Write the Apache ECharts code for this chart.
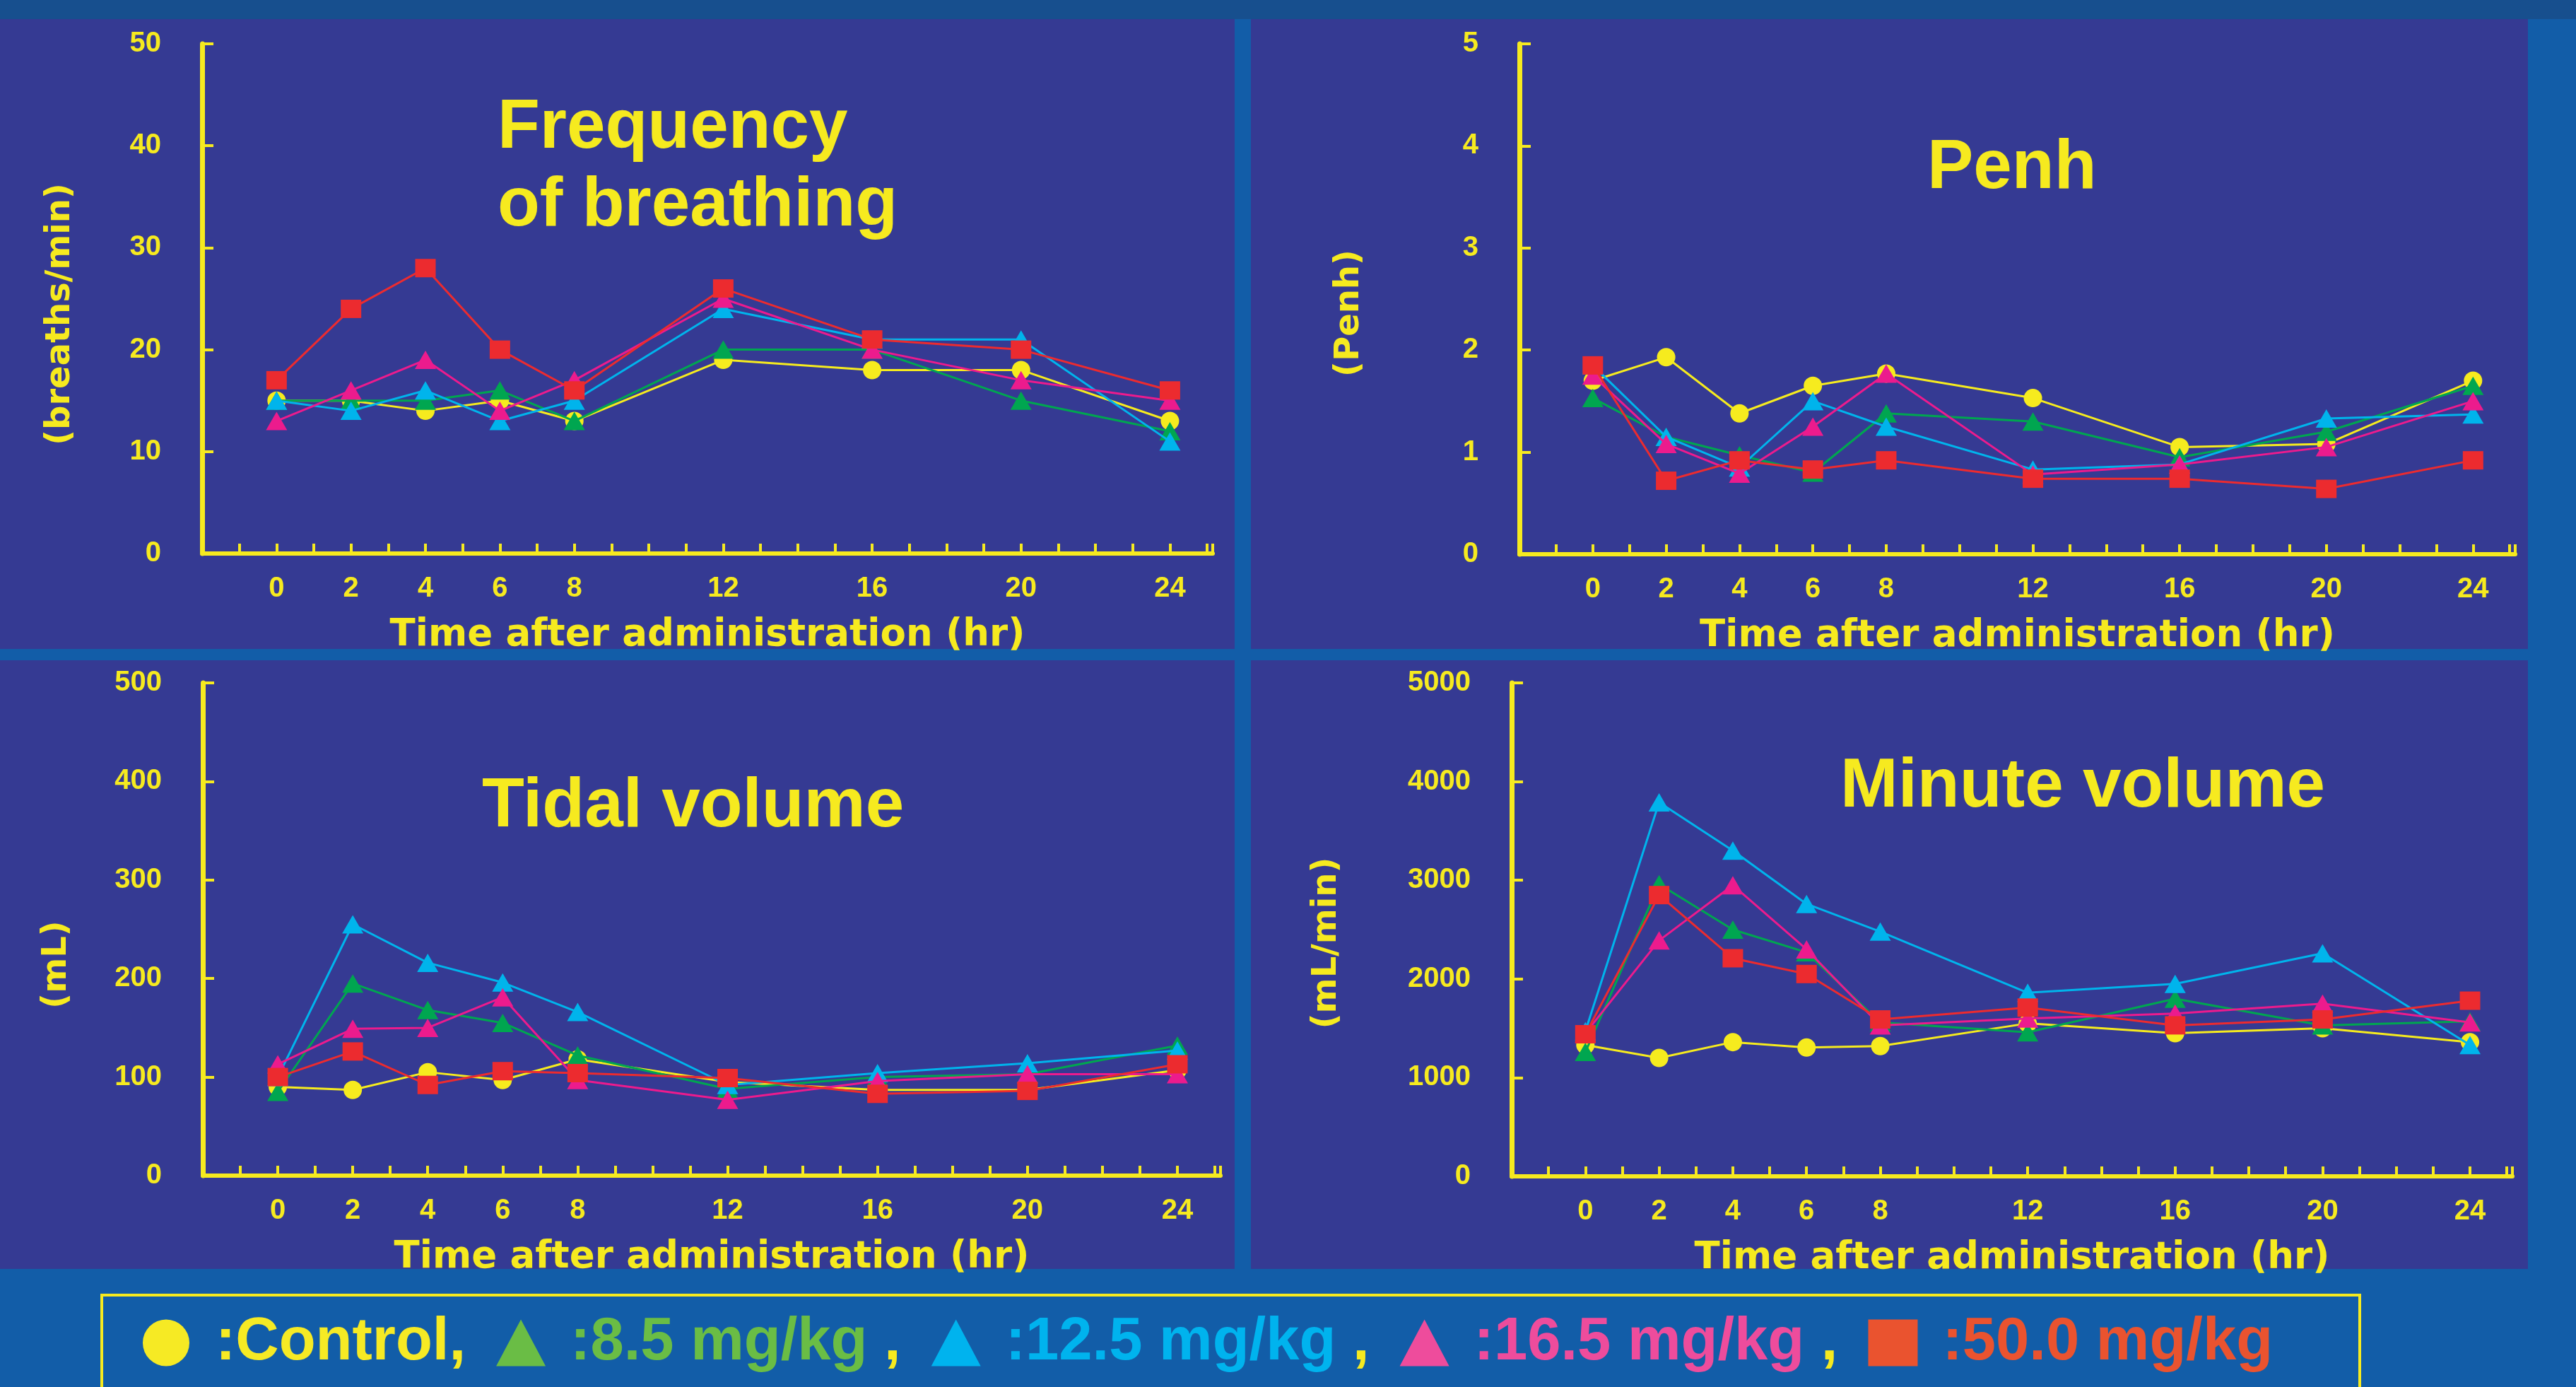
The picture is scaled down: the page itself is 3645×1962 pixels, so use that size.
<!DOCTYPE html>
<html>
<head>
<meta charset="utf-8">
<script src="https://cdn.jsdelivr.net/npm/echarts@6/dist/echarts.min.js"></script>
<style>
html,body{margin:0;padding:0;background:#125DA8;}
#c{width:3645px;height:1962px;}
</style>
</head>
<body>
<div id="c"></div>
<script>
// ---------- data ----------
const hours = [0, 2, 4, 6, 8, 12, 16, 20, 24];
const xTickLabels = [0, 2, 4, 6, 8, 12, 16, 20, 24];
const seriesNames = ['Control', '8.5 mg/kg', '12.5 mg/kg', '16.5 mg/kg', '50.0 mg/kg'];

const freqControl = [15, 15, 14, 15, 13, 19, 18, 18, 13];
const freq85      = [15, 15, 15, 16, 13, 20, 20, 15, 12];
const freq125     = [15, 14, 16, 13, 15, 24, 21, 21, 11];
const freq165     = [13, 16, 19, 14, 17, 25, 20, 17, 15];
const freq500     = [17, 24, 28, 20, 16, 26, 21, 20, 16];

const penhControl = [1.70, 1.93, 1.38, 1.65, 1.77, 1.53, 1.05, 1.08, 1.70];
const penh85      = [1.53, 1.15, 0.97, 0.80, 1.38, 1.30, 0.95, 1.20, 1.65];
const penh125     = [1.85, 1.15, 0.85, 1.50, 1.25, 0.83, 0.88, 1.33, 1.37];
const penh165     = [1.75, 1.08, 0.79, 1.25, 1.77, 0.78, 0.88, 1.05, 1.50];
const penh500     = [1.85, 0.72, 0.92, 0.83, 0.92, 0.74, 0.74, 0.64, 0.92];

const tidalControl = [90, 87, 105, 97, 118, 95, 87, 87, 107];
const tidal85      = [85, 195, 168, 155, 122, 88, 100, 103, 132];
const tidal125     = [100, 255, 216, 196, 166, 92, 104, 114, 127];
const tidal165     = [113, 149, 150, 181, 97, 77, 96, 103, 103];
const tidal500     = [100, 126, 92, 106, 104, 99, 83, 86, 113];

const minuteControl = [1330, 1200, 1360, 1305, 1320, 1550, 1450, 1500, 1360];
const minute85      = [1260, 2960, 2500, 2270, 1560, 1460, 1800, 1530, 1570];
const minute125     = [1470, 3790, 3300, 2760, 2480, 1860, 1950, 2260, 1330];
const minute165     = [1450, 2390, 2950, 2300, 1530, 1600, 1650, 1750, 1560];
const minute500     = [1440, 2850, 2210, 2050, 1590, 1710, 1530, 1590, 1780];

const chartTitles = ['Frequency\nof breathing', 'Penh', 'Tidal volume', 'Minute volume'];
const yNames = ['(breaths/min)', '(Penh)', '(mL)', '(mL/min)'];
const yMax = [50, 5, 500, 5000];
const yInterval = [10, 1, 100, 1000];
const xName = 'Time after administration (hr)';

// ---------- styling ----------
const YEL = '#F6EA1F';
const lineColors = ['#F6EB1E', '#00A650', '#00B4EC', '#EC1B8D', '#EC2B2F'];
const legendColors = ['#F6EA24', '#6ABD45', '#00B3EE', '#EE4C9C', '#EA532F'];
const symbols = ['circle', 'triangle', 'triangle', 'triangle', 'rect'];
const symbolSizes = [26, [30, 26], [30, 26], [30, 26], [29, 26]];

const panelData = [
  [freqControl, freq85, freq125, freq165, freq500],
  [penhControl, penh85, penh125, penh165, penh500],
  [tidalControl, tidal85, tidal125, tidal165, tidal500],
  [minuteControl, minute85, minute125, minute165, minute500]
];

const grids = [
  {left: 286, top: 62, width: 1430, height: 721},
  {left: 2150, top: 62, width: 1409, height: 722},
  {left: 287, top: 966, width: 1440, height: 697},
  {left: 2139, top: 966, width: 1416, height: 698}
];
const yNameGaps = [176, 216, 182, 237];
const yNamePad = [44, 40, 100, 38];
const titlePos = [
  {left: 704, top: 127},
  {left: 2727, top: 184},
  {left: 682, top: 1087},
  {left: 2604, top: 1059}
];

const chart = echarts.init(document.getElementById('c'), null, {renderer: 'canvas'});

const option = {
  backgroundColor: '#125DA8',
  animation: false,
  title: chartTitles.map((t, i) => ({
    text: t,
    left: titlePos[i].left,
    top: titlePos[i].top,
    padding: 0,
    textStyle: {
      color: YEL, fontSize: 98, fontWeight: 'bold',
      fontFamily: 'Liberation Sans, Arial, sans-serif', lineHeight: 110
    }
  })),
  graphic: [
    {type: 'rect', z: -10, silent: true, shape: {x: 0, y: 0, width: 3645, height: 27}, style: {fill: '#174F8E'}},
    {type: 'rect', z: -10, silent: true, shape: {x: 0, y: 27, width: 1747, height: 891}, style: {fill: '#353A93'}},
    {type: 'rect', z: -10, silent: true, shape: {x: 1770, y: 27, width: 1807, height: 891}, style: {fill: '#353A93'}},
    {type: 'rect', z: -10, silent: true, shape: {x: 0, y: 934, width: 1747, height: 861}, style: {fill: '#353A93'}},
    {type: 'rect', z: -10, silent: true, shape: {x: 1770, y: 934, width: 1807, height: 861}, style: {fill: '#353A93'}},
    {type: 'rect', z: -5, silent: true, shape: {x: 144, y: 1832, width: 3195, height: 200}, style: {fill: 'none', stroke: YEL, lineWidth: 4}}
  ],
  legend: {
    left: 202,
    top: 1857,
    padding: 0,
    itemWidth: 70,
    itemHeight: 66,
    itemGap: 43,
    selectedMode: false,
    itemStyle: {borderWidth: 0},
    textStyle: {fontSize: 85, fontWeight: 'bold', fontFamily: 'Liberation Sans, Arial, sans-serif',
      rich: {
        n: {fontSize: 85, fontWeight: 'bold', fontFamily: 'Liberation Sans, Arial, sans-serif', padding: [0, 0, 0, 30]},
        c: {fontSize: 85, fontWeight: 'bold', fontFamily: 'Liberation Sans, Arial, sans-serif', color: YEL}
      }
    },
    formatter: function (name) {
      const i = seriesNames.indexOf(name);
      if (i === 0) return '{n|:' + name + ',}';
      return '{n|:' + name + '}' + (i < seriesNames.length - 1 ? '{c| ,}' : '');
    },
    data: seriesNames.map((n, i) => ({
      name: n, icon: symbols[i],
      itemStyle: {color: legendColors[i], borderWidth: 0},
      textStyle: {color: legendColors[i]}
    }))
  },
  grid: grids.map(g => Object.assign({containLabel: false, outerBoundsMode: 'none'}, g)),
  xAxis: grids.map((g, i) => ({
    type: 'value', gridIndex: i, min: -2, max: 25.15, interval: 1,
    name: xName, nameLocation: 'middle', nameGap: 90,
    nameTextStyle: {color: YEL, fontSize: 53, fontWeight: 'bold', fontFamily: 'DejaVu Sans, sans-serif'},
    splitLine: {show: false},
    axisLine: {show: true, onZero: false, lineStyle: {color: YEL, width: 6}},
    axisTick: {show: true, inside: true, length: 14, lineStyle: {color: YEL, width: 4}},
    axisLabel: {
      show: true, margin: 30, color: YEL, fontSize: 40, fontWeight: 'bold',
      fontFamily: 'Liberation Sans, Arial, sans-serif',
      showMinLabel: true, showMaxLabel: true,
      formatter: v => (xTickLabels.indexOf(v) >= 0 ? String(v) : '')
    }
  })),
  yAxis: grids.map((g, i) => ({
    type: 'value', gridIndex: i, min: 0, max: yMax[i], interval: yInterval[i],
    name: yNames[i], nameLocation: 'middle', nameGap: yNameGaps[i], nameRotate: 90,
    nameTextStyle: {color: YEL, fontSize: 48, fontWeight: 'bold', fontFamily: 'DejaVu Sans, sans-serif',
      padding: [0, yNamePad[i], 0, 0]},
    splitLine: {show: false},
    axisLine: {show: true, onZero: false, lineStyle: {color: YEL, width: 7}},
    axisTick: {show: true, inside: true, length: 16, lineStyle: {color: YEL, width: 4}},
    axisLabel: {show: true, margin: 58, color: YEL, fontSize: 40, fontWeight: 'bold',
      fontFamily: 'Liberation Sans, Arial, sans-serif',
      formatter: v => String(v)}
  })),
  series: []
};

panelData.forEach((sets, gi) => {
  sets.forEach((vals, si) => {
    option.series.push({
      type: 'line',
      name: seriesNames[si],
      xAxisIndex: gi, yAxisIndex: gi,
      data: hours.map((h, k) => [h, vals[k]]),
      symbol: symbols[si],
      symbolSize: symbolSizes[si],
      symbolKeepAspect: false,
      showAllSymbol: true,
      lineStyle: {color: lineColors[si], width: 3},
      itemStyle: {color: lineColors[si], borderWidth: 0},
      emphasis: {disabled: true},
      z: 2 + si
    });
  });
});

chart.setOption(option);
</script>
</body>
</html>
